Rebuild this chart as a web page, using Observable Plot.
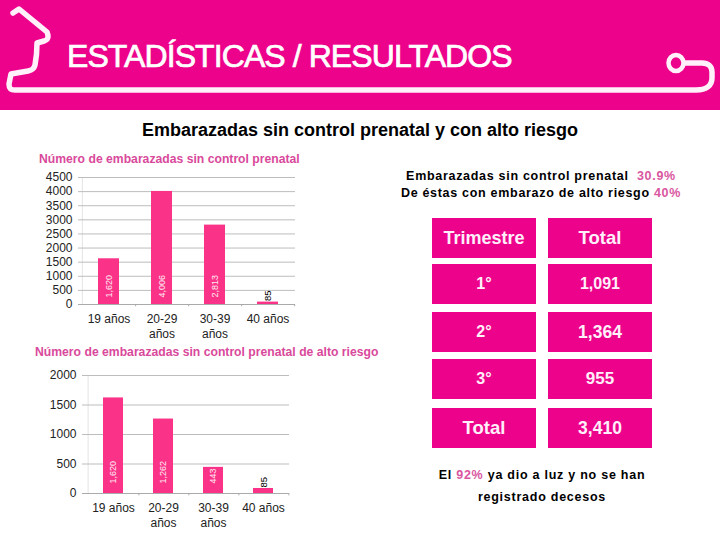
<!DOCTYPE html>
<html><head><meta charset="utf-8">
<script src="https://cdn.jsdelivr.net/npm/d3@7"></script>
<script src="https://cdn.jsdelivr.net/npm/@observablehq/plot@0.6"></script>
<style>
html,body{margin:0;padding:0;background:#fff}
#page{position:relative;width:720px;height:540px;overflow:hidden;font-family:"Liberation Sans",Arial,sans-serif}
#page>*{position:absolute}
.band{left:0;top:0;width:720px;height:110px;background:#ED038B}
.deco{left:0;top:0}
.title{left:67px;top:38px;font-size:32px;color:#fff;letter-spacing:-.92px;white-space:nowrap;line-height:36px;-webkit-text-stroke:.7px #fff}
.head{left:0;width:720px;top:120px;text-align:center;font-weight:bold;font-size:18px;line-height:20px;color:#000}
.sub{font-weight:bold;font-size:12.2px;color:#D9499B;white-space:nowrap;line-height:14px}
.note{text-align:center;font-weight:bold;font-size:12.5px;color:#000;white-space:pre;line-height:17px;letter-spacing:.7px}
.note b{color:#D9569F}
.cell{display:flex;align-items:center;justify-content:center;background:#ED038B;color:#FFEFFA;font-weight:bold;width:104px;height:40px}
svg{display:block}
</style></head>
<body><div id="page">
<div class="band"></div>
<svg class="deco" width="720" height="110" fill="none" stroke="#FFF0FA" stroke-width="5.5" stroke-linejoin="round" stroke-linecap="round">
<path d="M13 13 L19 9 L47 32 C49 37 48 40 44 41 L37 43 C37 50 36 60 35 65 C34 69 32 70 28 71 L11 74 L9 84 C9 88 10 90 15 90 L696 90 C707 90 712 85 712 78 L712 72 C712 66 708 63 702 63 L685 63"/>
<ellipse cx="676" cy="63" rx="7.5" ry="8" stroke-width="4.5"/>
</svg>
<div id="mount"></div>
</div>
<script>
// Chart data
const ageGroups = ["19 años", "20-29\naños", "30-39\naños", "40 años"];
const noControl = [1620, 4006, 2813, 85];
const highRisk = [1620, 1262, 443, 85];
const noControlLabels = ["1,620", "4,006", "2,813", "85"];
const highRiskLabels = ["1,620", "1,262", "443", "85"];
const noControlTicks = [0, 500, 1000, 1500, 2000, 2500, 3000, 3500, 4000, 4500];
const highRiskTicks = [0, 500, 1000, 1500, 2000];
// Table data
const trimestres = ["Trimestre", "1°", "2°", "3°", "Total"];
const totals = ["Total", "1,091", "1,364", "955", "3,410"];

const page = document.getElementById("page");
function add(cls, html, css) {
  const d = document.createElement("div");
  d.className = cls; d.innerHTML = html; d.style.cssText = css || "";
  page.appendChild(d); return d;
}
add("title", "ESTADÍSTICAS / RESULTADOS");
add("head", "Embarazadas sin control prenatal y con alto riesgo");
add("sub", "Número de embarazadas sin control prenatal", "left:39px;top:152px");
add("sub", "Número de embarazadas sin control prenatal de alto riesgo", "left:35px;top:345px");
add("note", "Embarazadas sin control prenatal  <b>30.9%</b>\nDe éstas con embarazo de alto riesgo <b>40%</b>", "left:378px;width:326px;top:168px");
add("note", "El <b>92%</b> ya dio a luz y no se han", "left:392px;width:300px;top:467px;letter-spacing:.75px");
add("note", "registrado decesos", "left:392px;width:300px;top:489px;letter-spacing:.75px");

const rowTops = [218, 264, 312, 359, 408];
const leftSizes = [18, 16, 16, 16, 18.5];
const rightSizes = [18.5, 16, 17.5, 17, 17.5];
trimestres.forEach((t, i) => {
  add("cell", t, `left:432px;top:${rowTops[i]}px;font-size:${leftSizes[i]}px`);
  add("cell", totals[i], `left:548px;top:${rowTops[i]}px;font-size:${rightSizes[i]}px`);
});

function chart(values, labels, ticks, o) {
  const rows = ageGroups.map((g, i) => ({g, v: values[i], l: labels[i]}));
  const p = Plot.plot({
    width: o.width, height: o.height,
    marginLeft: o.ml, marginRight: o.mr, marginTop: o.mt, marginBottom: o.mb,
    style: {background: "transparent", fontFamily: "Liberation Sans, Arial, sans-serif", overflow: "visible"},
    x: {domain: ageGroups, paddingInner: 0.6, paddingOuter: 0.3, align: 0.5, label: null},
    y: {domain: [0, ticks[ticks.length - 1]], label: null},
    marks: [
      Plot.ruleX(ageGroups.slice(0, 1), {x: d => d, dx: -o.step / 2, stroke: "#E4E4E4"}),
      Plot.ruleY(ticks, {stroke: "#BDBDBD", strokeWidth: 1, insetLeft: -4}),
      Plot.ruleY([0], {stroke: "#AAAAAA", strokeWidth: 1, insetLeft: -4}),
      Plot.ruleX(ageGroups, {x: d => d, dx: o.step / 2, y1: 0, y2: -o.tick, stroke: "#AAAAAA"}),
      Plot.rectY(rows, {x: "g", y: "v", fill: "#FB3388"}),
      Plot.text(rows.filter(d => d.v > 200), {x: "g", y: 0, text: "l", rotate: -90, textAnchor: "start", dy: o.dy, fill: "#FFEAF3", fontSize: 9}),
      Plot.text(rows.filter(d => d.v <= 200), {x: "g", y: "v", text: "l", rotate: -90, textAnchor: "start", dy: -1, fill: "#000", fontSize: 9.5}),
      Plot.axisY({ticks, tickSize: 0, tickPadding: 10, fontSize: 12, fill: "#222", label: null, tickFormat: d => String(d)}),
      Plot.axisX({tickSize: 0, tickPadding: 9, fontSize: 12, fill: "#222", label: null, lineHeight: 1.17})
    ]
  });
  p.style.left = o.left + "px";
  p.style.top = o.top + "px";
  p.style.position = "absolute";
  page.appendChild(p);
}
chart(noControl, noControlLabels, noControlTicks, {left: 30, top: 167, width: 280, height: 180, ml: 52, mr: 15, mt: 10, mb: 43, step: 53.25, tick: 80, dy: -7});
chart(highRisk, highRiskLabels, highRiskTicks, {left: 30, top: 365, width: 280, height: 175, ml: 56, mr: 21, mt: 10, mb: 47, step: 50.75, tick: 40, dy: -10});
</script>
</body></html>
